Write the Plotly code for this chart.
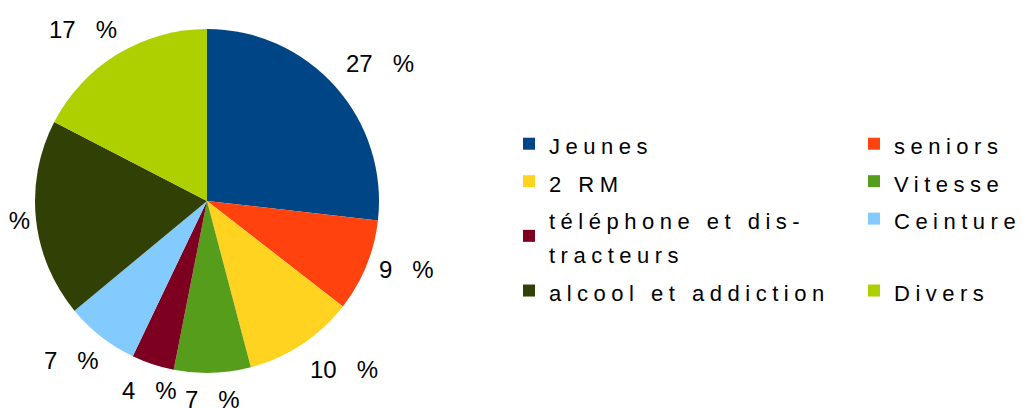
import math
import plotly.graph_objects as go

categories = ["Jeunes", "seniors", "2 RM", "Vitesse",
              "téléphone et dis-<br>tracteurs", "Ceinture",
              "alcool et addiction", "Divers"]
values = [26.8, 8.7, 10.4, 7.2, 4.0, 6.9, 18.6, 17.4]
colors = ["#004586", "#ff420e", "#ffd320", "#579d1c",
          "#7e0021", "#83caff", "#314004", "#aecf00"]

total = sum(values)
pcts = [round(v / total * 100) for v in values]
pct_labels = [f"{p}\u00a0\u00a0\u00a0%" for p in pcts]
legend_names = [f"<span style='font-size:22px;letter-spacing:5.5px'>{c}</span>"
                for c in categories]

W, H = 1022, 408
cx, cy, r = 207, 201, 172
r_anchor = 183

fig = go.Figure(go.Pie(
    labels=legend_names,
    values=values,
    textinfo="none",
    marker=dict(colors=colors, line=dict(width=0)),
    sort=False,
    direction="clockwise",
    rotation=0,
    domain=dict(x=[(cx - r) / W, (cx + r) / W],
                y=[1 - (cy + r) / H, 1 - (cy - r) / H]),
))

# percentage labels anchored just outside each slice at its mid angle
anchors = [("center", "bottom"), ("left", "bottom"), ("left", "middle"),
           ("left", "top"), ("center", "top"), ("right", "top"),
           ("right", "middle"), ("right", "bottom")]
cum = 0.0
for v, txt in zip(values, pct_labels):
    frac = (cum + v / 2) / total
    cum += v
    theta = 2 * math.pi * frac
    deg = 360 * frac
    xa, ya = anchors[int(((deg + 22.5) % 360) // 45)]
    px = cx + r_anchor * math.sin(theta)
    py = cy - r_anchor * math.cos(theta)
    fig.add_annotation(
        x=px / W, y=1 - py / H, xref="paper", yref="paper",
        text=txt, showarrow=False, xanchor=xa, yanchor=ya,
        xshift=7 if xa == "right" else 0,
        font=dict(size=24, color="#000000", family="Liberation Sans"),
    )

fig.update_layout(
    width=W, height=H,
    margin=dict(l=0, r=0, t=0, b=0, autoexpand=False),
    paper_bgcolor="white",
    plot_bgcolor="white",
    font=dict(family="Liberation Sans", color="#000000"),
    showlegend=True,
    legend=dict(
        orientation="h",
        x=509 / W, xanchor="left",
        y=1 - 120 / H, yanchor="top",
        font=dict(size=26.5, family="Liberation Sans", color="#000000"),
        entrywidth=300,
        entrywidthmode="pixels",
        traceorder="normal",
        bgcolor="rgba(0,0,0,0)",
    ),
)

fig.write_html("out.html",
               config={"displayModeBar": False},
               post_script="document.body.style.margin='0';document.body.style.overflow='hidden';")
